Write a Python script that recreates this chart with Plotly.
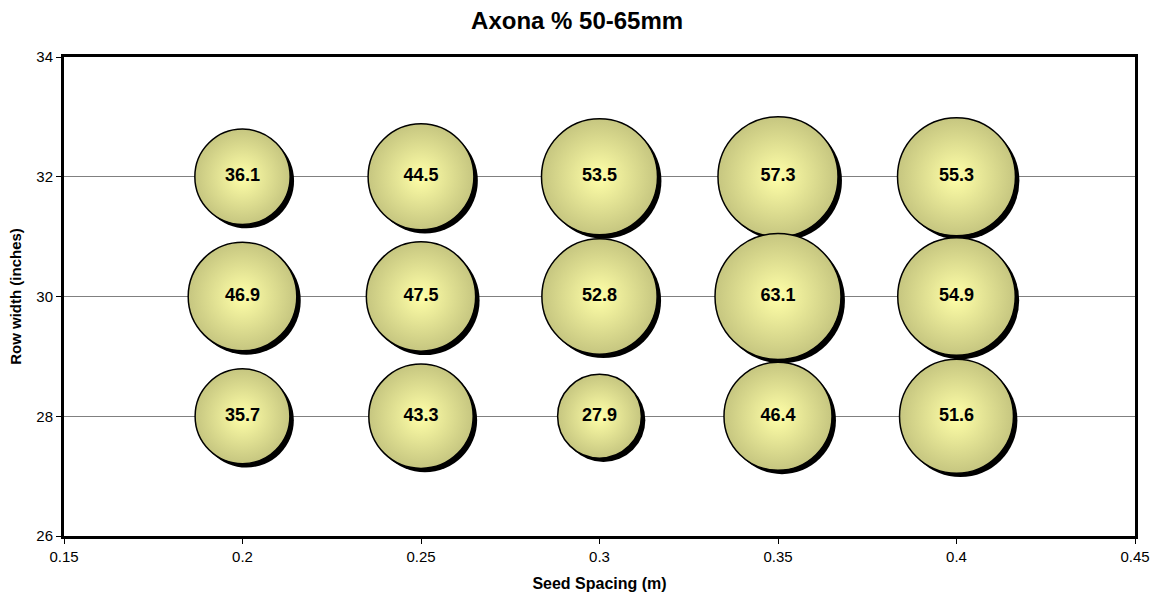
import plotly.graph_objects as go

# Seed spacing (m) and row width (inches) for each plot
seed_spacing = [0.2, 0.25, 0.3, 0.35, 0.4,
                0.2, 0.25, 0.3, 0.35, 0.4,
                0.2, 0.25, 0.3, 0.35, 0.4]
row_width = [32, 32, 32, 32, 32,
             30, 30, 30, 30, 30,
             28, 28, 28, 28, 28]
# Percentage of tubers in the 50-65mm grade
pct_50_65 = [36.1, 44.5, 53.5, 57.3, 55.3,
             46.9, 47.5, 52.8, 63.1, 54.9,
             35.7, 43.3, 27.9, 46.4, 51.6]

x_tick_vals = [0.15, 0.2, 0.25, 0.3, 0.35, 0.4, 0.45]
x_tick_text = ["0.15", "0.2", "0.25", "0.3", "0.35", "0.4", "0.45"]
y_tick_vals = [26, 28, 30, 32, 34]

FONT = "Liberation Sans, Arial, sans-serif"
MAX_DIAM = 126  # px diameter of the largest bubble
sizeref = 2.0 * max(pct_50_65) / MAX_DIAM ** 2

# drop-shadow offset in data units
SHADOW_DX = 0.0011
SHADOW_DY = 0.065

fig = go.Figure()

# shadow behind each bubble
fig.add_trace(go.Scatter(
    x=[v + SHADOW_DX for v in seed_spacing],
    y=[v - SHADOW_DY for v in row_width],
    mode="markers",
    marker=dict(size=pct_50_65, sizemode="area", sizeref=sizeref,
                color="black", opacity=1, line=dict(width=0)),
    hoverinfo="skip", showlegend=False,
))

# shaded bubbles (pale centre fading to olive rim) with value labels
fig.add_trace(go.Scatter(
    x=seed_spacing,
    y=row_width,
    mode="markers+text",
    text=[f"{v:.1f}" for v in pct_50_65],
    textposition="middle center",
    textfont=dict(family=FONT, size=18, color="black", weight="bold"),
    marker=dict(size=pct_50_65, sizemode="area", sizeref=sizeref,
                color="#C6C680", opacity=1,
                gradient=dict(type="radial", color="#FFFFA8"),
                line=dict(color="black", width=1.5)),
    hoverinfo="skip", showlegend=False,
))

fig.update_layout(
    width=1160, height=592,
    margin=dict(l=64, r=25, t=57, b=56),
    paper_bgcolor="white", plot_bgcolor="white",
    title=dict(text="<b>Axona % 50-65mm</b>", x=0.4975, xanchor="center",
               y=1 - 21 / 592, yanchor="middle", yref="container",
               font=dict(family=FONT, size=24, color="black")),
    font=dict(family=FONT, color="black"),
    showlegend=False,
)

fig.update_xaxes(
    range=[0.15, 0.45], tickvals=x_tick_vals, ticktext=x_tick_text,
    ticks="outside", ticklen=5, tickwidth=1, tickcolor="black",
    tickfont=dict(family=FONT, size=15, color="black"),
    showline=True, linewidth=3, linecolor="black", mirror=True,
    showgrid=False, zeroline=False, automargin=False,
    title=dict(text="<b>Seed Spacing (m)</b>", standoff=14,
               font=dict(family=FONT, size=16, color="black")),
)

fig.update_yaxes(
    range=[26, 34], tickvals=y_tick_vals,
    ticks="outside", ticklen=5, tickwidth=1, tickcolor="black",
    tickfont=dict(family=FONT, size=15, color="black"),
    showline=True, linewidth=3, linecolor="black", mirror=True,
    showgrid=True, gridcolor="#808080", gridwidth=1, zeroline=False,
    automargin=False,
    title=dict(text="<b>Row width (inches)</b>", standoff=12,
               font=dict(family=FONT, size=15, color="black")),
)

fig.write_html("out.html")
